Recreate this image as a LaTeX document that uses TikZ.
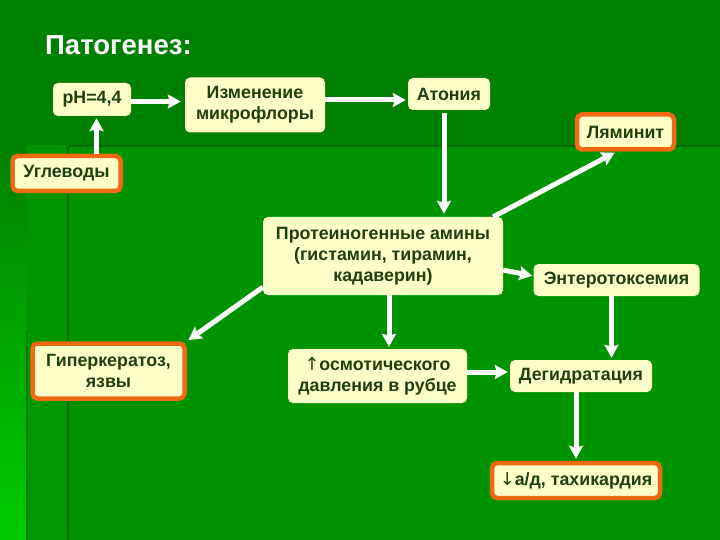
\documentclass[tikz,border=0pt]{standalone}
\usepackage{fontspec}
\setmainfont{Liberation Sans}
\newfontfamily\arrfont{DejaVu Sans}
\usetikzlibrary{arrows.meta}
\definecolor{bgtop}{HTML}{008000}
\definecolor{bglow}{HTML}{009300}
\definecolor{bgline}{HTML}{006A00}
\definecolor{brightg}{HTML}{00CC00}
\definecolor{boxfill}{HTML}{FFFFC8}
\definecolor{txt}{HTML}{1F3F10}
\definecolor{orng}{HTML}{F06A14}
\tikzset{
  box/.style={fill=boxfill, rounded corners=5pt, text=txt, align=center, inner sep=0pt,
    font=\bfseries\fontsize{17.8}{21}\selectfont},
  obox/.style={box, draw=orng, line width=4.5pt},
  arr/.style={draw=white, line width=5pt, -{Stealth[length=13pt,width=14pt,inset=2pt]}},
}
\begin{document}
\begin{tikzpicture}[x=1pt,y=-1pt]
\useasboundingbox (0,0) rectangle (720,540);
% background
\fill[bgtop] (0,0) rectangle (720,540);
\fill[bglow] (27,146) rectangle (720,540);
\shade[top color=bglow, bottom color=bglow!90!brightg] (27,146) rectangle (68,540);
\shade[top color=bgtop, middle color=bglow!70!brightg, bottom color=brightg] (0,146) rectangle (27,540);
\draw[bgline, line width=2.5pt] (68,146) -- (720,146);
\draw[bgline, line width=2pt] (68,146) -- (68,540);
\draw[bgline!60!bglow, line width=1.5pt] (27,330) -- (27,540);
% title
\node[anchor=base west, text=white, inner sep=0pt, font=\bfseries\fontsize{27.5}{32}\selectfont] (title) at (45,55) {Патогенез:};
% nodes
\node[box, minimum width=78pt, minimum height=33pt] (ph) at (92,99.5) {pH=4,4};
\node[box, minimum width=140pt, minimum height=55pt] (izm) at (255,105) {Изменение\\микрофлоры};
\node[box, minimum width=82pt, minimum height=32pt] (aton) at (449,94) {Атония};
\node[obox, minimum width=97pt, minimum height=35pt] (lam) at (625.5,132) {Ляминит};
\node[obox, minimum width=108pt, minimum height=35pt] (ugl) at (66.5,173.5) {Углеводы};
\node[box, minimum width=240pt, minimum height=78pt] (prot) at (383,256) {Протеиногенные амины\\(гистамин, тирамин,\\кадаверин)};
\node[box, minimum width=166pt, minimum height=32pt] (ent) at (616.5,280) {Энтеротоксемия};
\node[obox, minimum width=152pt, minimum height=55pt] (giper) at (108.5,371) {Гиперкератоз,\\язвы};
\node[box, minimum width=179pt, minimum height=54pt] (osm) at (377.5,376) {{\arrfont\mdseries ↑}осмотического\\давления в рубце};
\node[box, minimum width=142pt, minimum height=32pt] (deg) at (581,376) {Дегидратация};
\node[obox, minimum width=168pt, minimum height=35pt] (ad) at (576,480.5) {{\arrfont\mdseries ↓}а/д, тахикардия};
% arrows
\draw[arr, shorten >=4pt] ([yshift=-2pt]ph.east) -- ([yshift=-2pt]ph.east -| izm.west);
\draw[arr, shorten >=2pt] ([yshift=5pt]izm.east) -- ([yshift=5pt]izm.east -| aton.west);
\draw[arr, shorten >=2pt] ([xshift=4.5pt]ph.south |- ugl.north) -- ([xshift=4.5pt]ph.south);
\draw[arr, shorten <=3pt, shorten >=3pt] ([xshift=-5pt]aton.south) -- ([xshift=-5pt]aton.south |- prot.north);
\draw[arr, shorten >=2pt] ([xshift=-10pt]prot.north east) -- ([xshift=-9pt]lam.south);
\draw[arr, shorten >=1pt] ([yshift=-14pt]prot.east) -- ([yshift=4pt]ent.west);
\draw[arr, shorten >=2pt] ([yshift=8pt]prot.south west) -- (giper.north east);
\draw[arr, shorten >=2pt] ([xshift=6pt]prot.south) -- ([xshift=6pt]prot.south |- osm.north);
\draw[arr, shorten >=2pt] ([yshift=4pt]osm.east) -- ([yshift=4pt]osm.east -| deg.west);
\draw[arr, shorten >=2pt] ([xshift=-5pt]ent.south) -- ([xshift=-5pt]ent.south |- deg.north);
\draw[arr, shorten >=2pt] (ad.north |- deg.south) -- (ad.north);
\end{tikzpicture}
\end{document}
